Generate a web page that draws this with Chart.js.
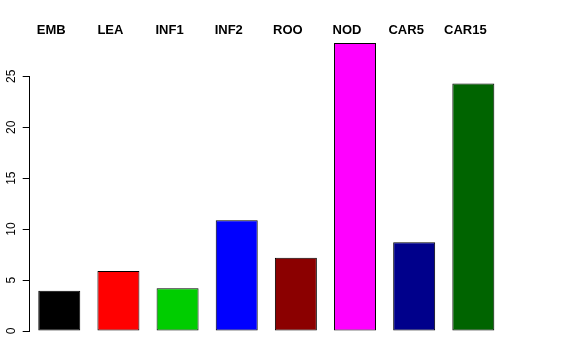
<!DOCTYPE html>
<html>
<head>
<meta charset="utf-8">
<script src="https://cdn.jsdelivr.net/npm/chart.js@4/dist/chart.umd.min.js"></script>
<style>
html,body{margin:0;padding:0;background:#fff;}
#wrap{width:576px;height:360px;position:relative;}
</style>
</head>
<body>
<div id="wrap"><canvas id="c" width="576" height="360"></canvas></div>
<script>
const categories = ["EMB", "LEA", "INF1", "INF2", "ROO", "NOD", "CAR5", "CAR15"];
const values = [3.95, 5.88, 4.2, 10.88, 7.19, 28.26, 8.72, 24.3];
const barColors = ["#000000", "#FF0000", "#00CD00", "#0000FF", "#8B0000", "#FF00FF", "#00008B", "#006400"];
const yTicks = [0, 5, 10, 15, 20, 25];

const FONT = "'Liberation Sans', Arial, Helvetica, sans-serif";

const yAxisPlugin = {
  id: 'yAxisR',
  afterDraw(chart) {
    const ys = chart.scales.y;
    const ctx = chart.ctx;
    const x = chart.chartArea.left;
    ctx.save();
    ctx.strokeStyle = '#000';
    ctx.lineWidth = 1;
    ctx.beginPath();
    ctx.moveTo(Math.round(x) - 0.5, ys.getPixelForValue(yTicks[0]));
    ctx.lineTo(Math.round(x) - 0.5, ys.getPixelForValue(yTicks[yTicks.length - 1]));
    ctx.stroke();
    ctx.fillStyle = '#000';
    ctx.font = '12px ' + FONT;
    ctx.textAlign = 'center';
    ctx.textBaseline = 'alphabetic';
    yTicks.forEach(v => {
      const py = ys.getPixelForValue(v);
      ctx.save();
      ctx.translate(15, py);
      ctx.rotate(-Math.PI / 2);
      ctx.fillText(String(v), 0, 0);
      ctx.restore();
    });
    ctx.restore();
  }
};

new Chart(document.getElementById('c'), {
  type: 'bar',
  data: {
    labels: categories,
    datasets: [{
      data: values,
      backgroundColor: barColors,
      borderColor: '#000',
      borderWidth: 1,
      borderSkipped: false,
      barPercentage: 0.71,
      categoryPercentage: 1.0
    }]
  },
  options: {
    responsive: false,
    animation: false,
    devicePixelRatio: 1,
    layout: { padding: { top: 0, bottom: 29, left: 0, right: 73.1 } },
    plugins: { legend: { display: false }, tooltip: { enabled: false } },
    scales: {
      x: {
        position: 'top',
        offset: true,
        grid: { display: false },
        border: { display: false },
        ticks: {
          color: '#000',
          font: { family: FONT, size: 13, weight: 'bold' },
          padding: -6,
          labelOffset: -8,
          maxRotation: 0,
          minRotation: 0
        },
        afterFit(s) { s.height = 40.6; }
      },
      y: {
        min: 0,
        max: 28.5,
        afterBuildTicks(s) { s.ticks = yTicks.map(v => ({ value: v })); },
        grid: { display: true, drawOnChartArea: false, drawTicks: true, tickLength: 7, color: '#000', lineWidth: 1 },
        border: { display: false },
        ticks: { display: false },
        afterFit(s) { s.width = 29.7; }
      }
    }
  },
  plugins: [yAxisPlugin]
});
</script>
</body>
</html>
